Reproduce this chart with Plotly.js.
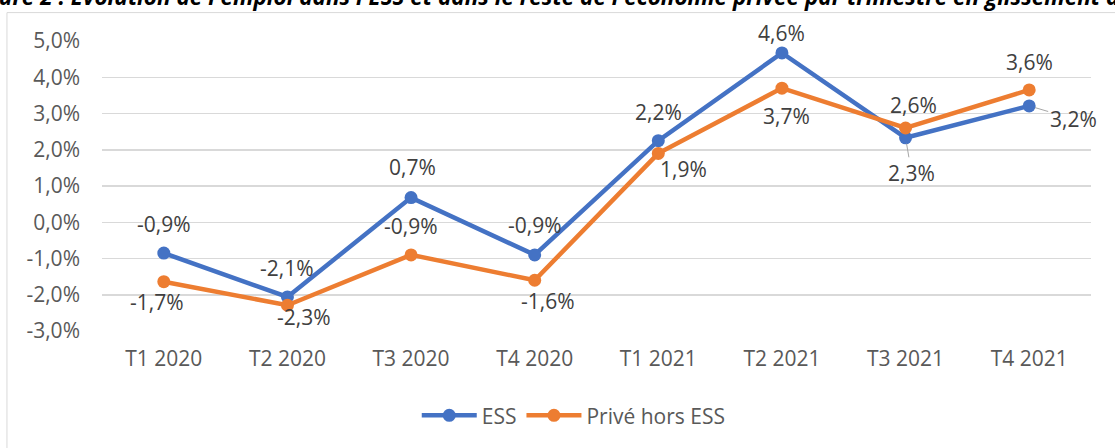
<!DOCTYPE html>
<html>
<head>
<meta charset="utf-8">
<script src="https://cdn.plot.ly/plotly-3.0.1.min.js"></script>
<style>
html,body{margin:0;padding:0;background:#fff;}
#chart{width:1115px;height:448px;}
</style>
</head>
<body>
<div id="chart"></div>
<script>
const categories = ['T1 2020','T2 2020','T3 2020','T4 2020','T1 2021','T2 2021','T3 2021','T4 2021'];
const essValues = [-0.85, -2.06, 0.68, -0.90, 2.25, 4.67, 2.33, 3.21];
const priveValues = [-1.64, -2.29, -0.90, -1.60, 1.90, 3.70, 2.60, 3.65];
const essLabels = ['-0,9%','-2,1%','0,7%','-0,9%','2,2%','4,6%','2,3%','3,2%'];
const priveLabels = ['-1,7%','-2,3%','-0,9%','-1,6%','1,9%','3,7%','2,6%','3,6%'];
const yTickVals = [-3,-2,-1,0,1,2,3,4,5];
const yTickText = ['-3,0%','-2,0%','-1,0%','0,0%','1,0%','2,0%','3,0%','4,0%','5,0%'];
const seriesNames = ['ESS','Privé hors ESS'];
const titleText = "Figure 2 : Évolution de l'emploi dans l'ESS et dans le reste de l'économie privée par trimestre en glissement annuel";

// label placement (pixel offsets: dx right, dy down), leader flag
const essOffsets = [[0,-29,0],[0,-29,0],[1,-31,0],[0,-30,0],[0,-29,0],[0,-20,0],[6,35,1],[44,13,1]];
const priveOffsets = [[-7,20,0],[17,12,0],[0,-29,0],[13,21,0],[25,16,0],[5,28,0],[8,-23,0],[0,-28,0]];

const FONT = 'Open Sans, sans-serif';
const FS = 21;
const BLUE = '#4472C4', ORANGE = '#ED7D31';

function makeTrace(name, y, color){
  return {
    type:'scatter', mode:'lines+markers', name:name,
    x:categories, y:y,
    line:{color:color, width:4.5},
    marker:{color:color, size:13},
    hoverinfo:'skip'
  };
}

const annotations = [];
function addLabels(vals, labels, offs){
  vals.forEach((v,i)=>{
    const o = offs[i];
    const a = {
      x:categories[i], y:v, xref:'x', yref:'y', text:labels[i],
      font:{family:FONT, size:FS, color:'#404040'}
    };
    if(o[2]){
      a.showarrow = true; a.ax = o[0]; a.ay = o[1];
      a.arrowhead = 0; a.arrowwidth = 1; a.arrowcolor = '#a6a6a6'; a.standoff = 6;
    } else {
      a.showarrow = false; a.xshift = o[0]; a.yshift = -o[1];
    }
    annotations.push(a);
  });
}
addLabels(essValues, essLabels, essOffsets);
addLabels(priveValues, priveLabels, priveOffsets);

annotations.push({
  xref:'paper', yref:'paper', x:-0.138, y:1.155, xanchor:'left', yanchor:'middle',
  showarrow:false, text:'<b><i>'+titleText+'</i></b>',
  font:{family:FONT, size:22.5, color:'#000000'}
});

const layout = {
  width:1115, height:448,
  margin:{l:102, r:24, t:41, b:115, pad:0},
  paper_bgcolor:'#ffffff', plot_bgcolor:'#ffffff',
  font:{family:FONT, size:FS, color:'#595959'},
  showlegend:true,
  legend:{orientation:'h', x:0.477, xanchor:'center', y:-0.292, yanchor:'middle',
          font:{family:FONT, size:FS, color:'#595959'}, itemwidth:55, traceorder:'normal'},
  xaxis:{type:'category', range:[-0.5,7.5], showgrid:false, zeroline:false, showline:false,
         ticks:'', ticklabelstandoff:13, tickfont:{family:FONT, size:FS, color:'#595959'}, fixedrange:true},
  yaxis:{range:[-3,5], tickvals:yTickVals, ticktext:yTickText, showgrid:true, gridcolor:'#d9d9d9', gridwidth:1.5,
         zeroline:false, showline:false, ticks:'', ticklabelstandoff:21,
         tickfont:{family:FONT, size:FS, color:'#595959'}, fixedrange:true},
  annotations:annotations,
  shapes:[{type:'rect', xref:'paper', yref:'paper', x0:-0.0961, x1:1.2, y0:-0.6, y1:1.098,
           line:{color:'#d9d9d9', width:1}, fillcolor:'rgba(0,0,0,0)', layer:'below'}]
};

Plotly.newPlot('chart', [makeTrace(seriesNames[0], essValues, BLUE), makeTrace(seriesNames[1], priveValues, ORANGE)], layout, {displayModeBar:false, staticPlot:true});
</script>
</body>
</html>
